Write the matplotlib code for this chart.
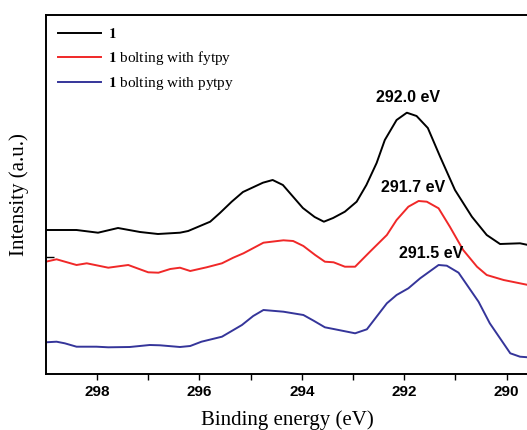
import matplotlib
matplotlib.use("Agg")
import matplotlib.pyplot as plt

plt.rcParams['mathtext.fontset'] = 'stix'

# Binding energy (eV) and intensity (a.u.)
be_black = [299.0, 298.40, 297.98, 297.59, 297.16, 296.81, 296.38, 296.22, 295.79, 295.60,
            295.37, 295.15, 294.76, 294.57, 294.37, 293.98, 293.75, 293.57, 293.39, 293.16,
            292.93, 292.74, 292.54, 292.38, 292.15, 291.95, 291.76, 291.54, 291.30, 291.01,
            290.68, 290.39, 290.13, 289.74, 289.58]
int_black = [144, 144, 141.3, 146, 142, 140, 141.3, 143, 152.3, 161,
             172.3, 182, 191.3, 194, 189, 166, 157, 152.3, 156, 162.3,
             172.3, 189, 211, 234, 254, 261.3, 258, 246, 217.3, 184,
             157.3, 139, 130, 130.7, 129]

be_red = [299.0, 298.79, 298.40, 298.20, 297.78, 297.39, 297.00, 296.80, 296.57, 296.38,
          296.18, 295.86, 295.56, 295.34, 295.14, 294.75, 294.36, 294.17, 293.97, 293.74,
          293.55, 293.38, 293.16, 292.96, 292.67, 292.34, 292.15, 291.92, 291.72, 291.56,
          291.33, 291.11, 290.85, 290.58, 290.39, 290.06, 289.58]
int_red = [112.3, 114.7, 109, 110.7, 106.3, 109, 101.7, 101.3, 105, 106.3,
           103, 106.7, 110.7, 116.3, 120.7, 131.3, 133.7, 133, 128, 119,
           112.3, 111.7, 107.3, 107.3, 122.3, 139, 154, 167.3, 173, 172.3,
           165.7, 147.3, 124, 107.3, 99, 94, 89]

be_blue = [299.0, 298.79, 298.63, 298.40, 298.01, 297.78, 297.36, 296.97, 296.77, 296.38,
           296.18, 295.96, 295.56, 295.17, 294.95, 294.75, 294.36, 293.97, 293.77, 293.55,
           293.38, 292.96, 292.73, 292.34, 292.15, 291.92, 291.69, 291.33, 291.17, 290.94,
           290.55, 290.33, 290.13, 289.93, 289.74, 289.58]
int_blue = [31.7, 32.3, 30.7, 27.3, 27.3, 26.7, 27, 29, 28.7, 27,
            28, 32.3, 37.3, 49, 58, 64, 62.3, 59, 53.3, 46.7,
            45, 40.7, 44.7, 70.7, 79, 85.7, 95.7, 109, 108.3, 101.3,
            72.3, 50.7, 35.7, 20.7, 17.3, 16.7]

labels = [r"$\mathbf{1}$", r"$\mathbf{1}$ bolting with fytpy", r"$\mathbf{1}$ bolting with pytpy"]
colors = ["#000000", "#f02828", "#35359a"]

peak_labels = ["292.0 eV", "291.7 eV", "291.5 eV"]
peak_pos = [(291.92, 277), (291.82, 187), (291.47, 121)]

x_ticks = [298, 296, 294, 292, 290]

fig = plt.figure(figsize=(5.27, 4.30), dpi=100)
ax = fig.add_axes([46/527, 56/430, 0.915, 359/430])

for be, it, c, lab in zip([be_black, be_red, be_blue], [int_black, int_red, int_blue], colors, labels):
    ax.plot(be, it, color=c, lw=1.4, label=lab)

ax.set_xlim(298.996, 289.58)
ax.set_ylim(0, 359)

ax.set_xticks(x_ticks)
ax.set_xticks([297, 295, 293, 291], minor=True)
ax.tick_params(axis='x', which='both', direction='out', length=4, width=1.0, pad=4)
for t in ax.get_xticklabels():
    t.set_fontfamily('Liberation Sans')
    t.set_fontweight('bold')
    t.set_fontsize(11)
ax.set_yticks([117])
ax.set_yticklabels([])
ax.tick_params(axis='y', direction='in', length=6, width=1.0)

for s in ax.spines.values():
    s.set_linewidth(1.4)

ax.set_xlabel("Binding energy (eV)", family='Liberation Serif', fontsize=15, labelpad=8)
ax.set_ylabel("Intensity (a.u.)", family='Liberation Serif', fontsize=15, labelpad=9)

for txt, (xv, yv) in zip(peak_labels, peak_pos):
    ax.text(xv, yv, txt, family='Liberation Sans', fontweight='bold', fontsize=11.5,
            ha='center', va='center')

leg = ax.legend(loc='upper left', frameon=False, prop={'family': 'Liberation Serif', 'size': 11},
                handlelength=2.8, handletextpad=0.45, labelspacing=0.52,
                bbox_to_anchor=(0.0, 1.0), borderaxespad=0.4)

fig.savefig("out.png", dpi=100)
